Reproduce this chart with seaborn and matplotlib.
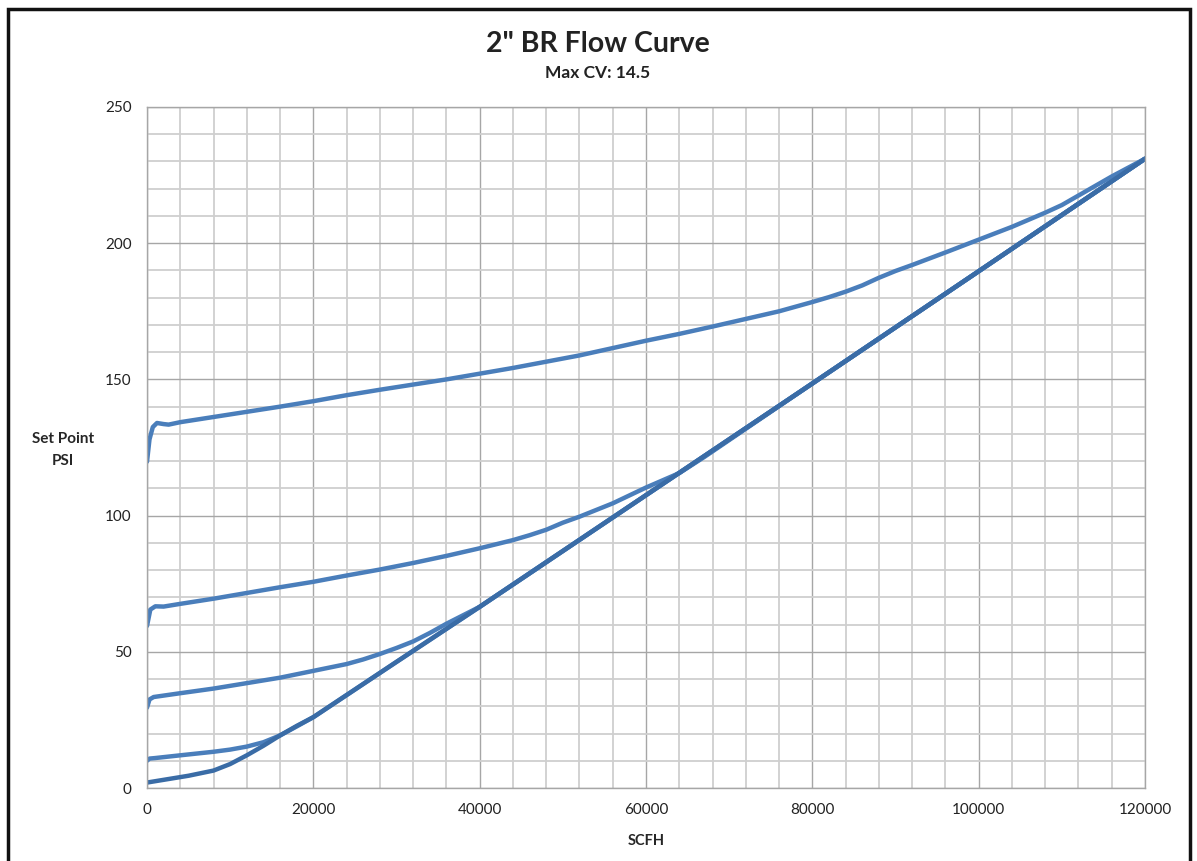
import pandas as pd
import numpy as np
import matplotlib
matplotlib.use("Agg")
import matplotlib.pyplot as plt
import matplotlib.patches as patches
from matplotlib.ticker import MultipleLocator
import seaborn as sns

# flow curve readings (SCFH vs set point PSI)
s1_x = [0, 300, 700, 1200, 2000, 2600, 4000, 8000, 12000, 16000, 20000, 24000, 28000, 32000,
        36000, 40000, 44000, 48000, 52000, 56000, 60000, 64000, 68000, 72000, 76000, 80000,
        82000, 84000, 86000, 88000, 90000, 92000, 96000, 100000, 104000, 108000, 110000,
        112000, 116000, 120000]
s1_y = [119.8, 128, 132.5, 134, 133.6, 133.4, 134.3, 136.2, 138.1, 140, 142, 144.2, 146.2, 148.1,
        150, 152.1, 154.2, 156.5, 158.8, 161.5, 164.2, 166.7, 169.4, 172.2, 175, 178.4,
        180.2, 182.2, 184.5, 187.3, 189.8, 192, 196.6, 201.3, 206, 211.2, 214,
        217.5, 224.5, 231]

s2_x = [0, 400, 1000, 2000, 4000, 8000, 12000, 16000, 20000, 24000, 28000, 32000, 36000, 40000,
        44000, 46000, 48000, 50000, 52000, 56000, 60000, 64000, 67000, 80000, 100000, 120000]
s2_y = [59.5, 65.5, 66.7, 66.6, 67.6, 69.5, 71.6, 73.7, 75.7, 78, 80.2, 82.6, 85.2, 88,
        91, 92.8, 94.8, 97.4, 99.6, 104.5, 110.3, 115.6, 121.5, 148.5, 189.7, 231]

s3_x = [0, 300, 800, 4000, 8000, 12000, 16000, 20000, 24000, 26000, 28000, 30000, 32000,
        34000, 36000, 38000, 40000, 60000, 80000, 100000, 120000]
s3_y = [29.5, 32.5, 33.4, 34.8, 36.5, 38.5, 40.5, 43, 45.5, 47.2, 49.2, 51.4, 53.8,
        56.9, 60.3, 63.4, 66.5, 107.5, 148.5, 189.7, 231]

s4_x = [0, 300, 1000, 4000, 8000, 10000, 12000, 14000, 16000, 18000, 20000, 30000, 40000,
        60000, 80000, 100000, 120000]
s4_y = [10, 10.8, 11, 12, 13.3, 14.1, 15.2, 16.8, 19.3, 22.6, 26, 46.3, 66.5,
        107.5, 148.5, 189.7, 231]

s5_x = [0, 2000, 5000, 8000, 10000, 12000, 14000, 16000, 18000, 20000, 30000, 40000,
        60000, 80000, 100000, 120000]
s5_y = [2, 3, 4.5, 6.4, 8.8, 12, 15.5, 19.3, 22.8, 26, 46.3, 66.5,
        107.5, 148.5, 189.7, 231]

series = {"s1": (s1_x, s1_y), "s2": (s2_x, s2_y), "s3": (s3_x, s3_y),
          "s4": (s4_x, s4_y), "s5": (s5_x, s5_y)}
rows = []
for name, (xs, ys) in series.items():
    for a, b in zip(xs, ys):
        rows.append({"series": name, "SCFH": a, "PSI": b})
df = pd.DataFrame(rows)

sns.set_style("white")
plt.rcParams['font.family'] = ['Lato', 'DejaVu Sans']

fig = plt.figure(figsize=(11.97, 8.61), dpi=100)
ax = fig.add_axes([147/1197, 1 - 788/861, (1145-147)/1197, (788-107)/861])

light = "#4A7EBB"
dark = "#3A6CA6"
pal = {"s1": light, "s2": light, "s3": light, "s4": light, "s5": dark}
sns.lineplot(data=df, x="SCFH", y="PSI", hue="series", palette=pal, sort=False,
             estimator=None, linewidth=3.2, legend=False, ax=ax)
for ln in ax.get_lines():
    ln.set_solid_joinstyle("round")
    ln.set_solid_capstyle("round")

ax.set_xlim(0, 120000)
ax.set_ylim(0, 250)
ax.xaxis.set_major_locator(MultipleLocator(20000))
ax.xaxis.set_minor_locator(MultipleLocator(4000))
ax.yaxis.set_major_locator(MultipleLocator(50))
ax.yaxis.set_minor_locator(MultipleLocator(10))
ax.grid(which="minor", color="#CFCFCF", linewidth=1.3)
ax.grid(which="major", color="#A6A6A6", linewidth=1.0)
ax.set_axisbelow(True)
for sp in ax.spines.values():
    sp.set_color("#A6A6A6")
    sp.set_linewidth(1.0)
ax.tick_params(which="major", direction="out", length=5, color="#A6A6A6",
               labelsize=11, labelcolor="#222222", pad=6)
ax.tick_params(which="minor", length=0)

ax.set_xlabel("SCFH", fontsize=10.5, fontweight="bold", labelpad=12)
ax.set_ylabel("Set Point\nPSI", fontsize=11, fontweight="bold", rotation=0,
              ha="center", va="center", linespacing=1.75)
ax.yaxis.set_label_coords(-0.084, 0.496)

fig.text(598/1197, 1 - 44/861, "2\" BR Flow Curve", ha="center", va="center",
         fontsize=20.5, fontweight="bold", color="#222222")
fig.text(598/1197, 1 - 73/861, "Max CV: 14.5", ha="center", va="center",
         fontsize=12.5, fontweight="bold", color="#222222")

border = patches.Rectangle((8/1197, -0.05), (1190-8)/1197, 1.05 - 9/861,
                           transform=fig.transFigure, fill=False,
                           edgecolor="#111111", linewidth=2.5, clip_on=False)
fig.patches.append(border)

fig.savefig("out.png", dpi=100)
